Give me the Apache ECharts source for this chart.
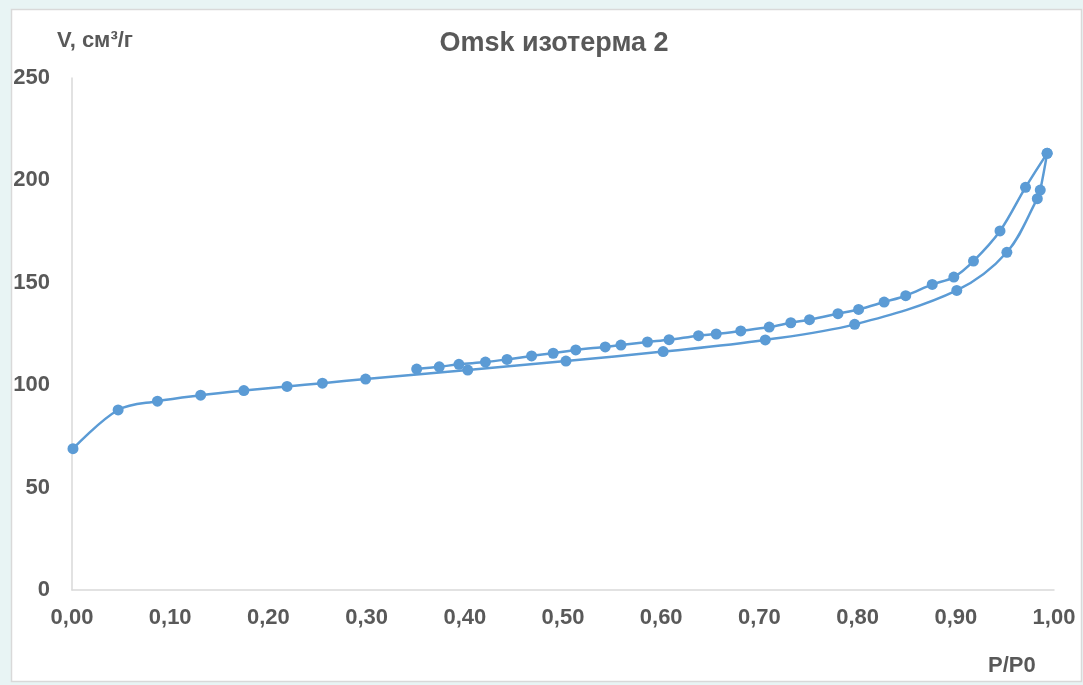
<!DOCTYPE html>
<html>
<head>
<meta charset="utf-8">
<title>Omsk изотерма 2</title>
<script src="https://cdn.jsdelivr.net/npm/echarts@6/dist/echarts.min.js"></script>
<style>
  html, body { margin: 0; padding: 0; background: #e8f4f4; }
  #chart { width: 1083px; height: 685px; }
</style>
</head>
<body>
<div id="chart"></div>
<script>
// Adsorption branch: relative pressure P/P0 and adsorbed volume V, cm3/g
const adsorptionP = [0.001, 0.047, 0.087, 0.131, 0.175, 0.219, 0.255, 0.299, 0.403, 0.503, 0.602, 0.706, 0.797, 0.901, 0.952, 0.983, 0.986, 0.993];
const adsorptionV = [69.0, 87.9, 92.2, 95.1, 97.4, 99.4, 101.0, 103.0, 107.4, 111.8, 116.4, 122.1, 129.7, 146.3, 164.9, 191.1, 195.3, 213.2];

// Desorption branch, from saturation back down
const desorptionP = [0.993, 0.971, 0.945, 0.918, 0.898, 0.876, 0.849, 0.827, 0.801, 0.780, 0.751, 0.732, 0.710, 0.681, 0.656, 0.638, 0.608, 0.586, 0.559, 0.543, 0.513, 0.490, 0.468, 0.443, 0.421, 0.394, 0.374, 0.351];
const desorptionV = [213.2, 196.6, 175.3, 160.6, 152.8, 149.2, 143.7, 140.6, 137.0, 134.9, 132.0, 130.5, 128.4, 126.5, 125.0, 124.2, 122.2, 121.1, 119.6, 118.7, 117.2, 115.6, 114.3, 112.6, 111.3, 110.2, 109.0, 107.9];

const chartTitle = 'Omsk изотерма 2';
const yAxisTitle = 'V, см³/г';
const xAxisTitle = 'P/P0';

const pairs = (xs, ys) => xs.map((x, i) => [x, ys[i]]);

const BLUE = '#5b9bd5';
const TEXT = '#595959';
const FONT = '"Liberation Sans", Arial, sans-serif';

const chart = echarts.init(document.getElementById('chart'), null, { renderer: 'canvas' });

const lineSeries = (name, data) => ({
  name: name,
  type: 'line',
  data: data,
  smooth: 0.35,
  symbol: 'circle',
  symbolSize: 11,
  showSymbol: true,
  lineStyle: { color: BLUE, width: 2.5 },
  itemStyle: { color: BLUE },
  emphasis: { disabled: true },
  z: 3
});

chart.setOption({
  animation: false,
  backgroundColor: '#e8f4f4',
  textStyle: { fontFamily: FONT },
  graphic: [
    {
      type: 'rect',
      z: -10,
      silent: true,
      shape: { x: 11.5, y: 9.5, width: 1070, height: 672 },
      style: { fill: '#ffffff', stroke: '#d9d9d9', lineWidth: 1.5 }
    },
    {
      type: 'text',
      left: 57,
      top: 30,
      silent: true,
      style: { text: yAxisTitle, fill: TEXT, font: 'bold 22px ' + FONT }
    },
    {
      type: 'text',
      left: 988,
      top: 655,
      silent: true,
      style: { text: xAxisTitle, fill: TEXT, font: 'bold 22px ' + FONT }
    }
  ],
  title: {
    text: chartTitle,
    left: 549,
    top: 25,
    textAlign: 'center',
    textStyle: { color: TEXT, fontFamily: FONT, fontWeight: 'bold', fontSize: 27 }
  },
  grid: {
    left: 72,
    right: 29,
    top: 78,
    bottom: 95,
    containLabel: false,
    outerBoundsMode: 'none'
  },
  xAxis: {
    type: 'value',
    min: 0,
    max: 1,
    interval: 0.1,
    axisLine: { show: true, onZero: false, lineStyle: { color: '#d9d9d9', width: 1.5 } },
    axisTick: { show: false },
    splitLine: { show: false },
    axisLabel: {
      margin: 17,
      color: TEXT,
      fontFamily: FONT,
      fontWeight: 'bold',
      fontSize: 22,
      formatter: v => v.toFixed(2).replace('.', ',')
    }
  },
  yAxis: {
    type: 'value',
    min: 0,
    max: 250,
    interval: 50,
    axisLine: { show: true, lineStyle: { color: '#d9d9d9', width: 1.5 } },
    axisTick: { show: false },
    splitLine: { show: false },
    axisLabel: {
      margin: 22,
      color: TEXT,
      fontFamily: FONT,
      fontWeight: 'bold',
      fontSize: 22
    }
  },
  series: [
    lineSeries('Адсорбция', pairs(adsorptionP, adsorptionV)),
    lineSeries('Десорбция', pairs(desorptionP, desorptionV))
  ]
});
</script>
</body>
</html>
